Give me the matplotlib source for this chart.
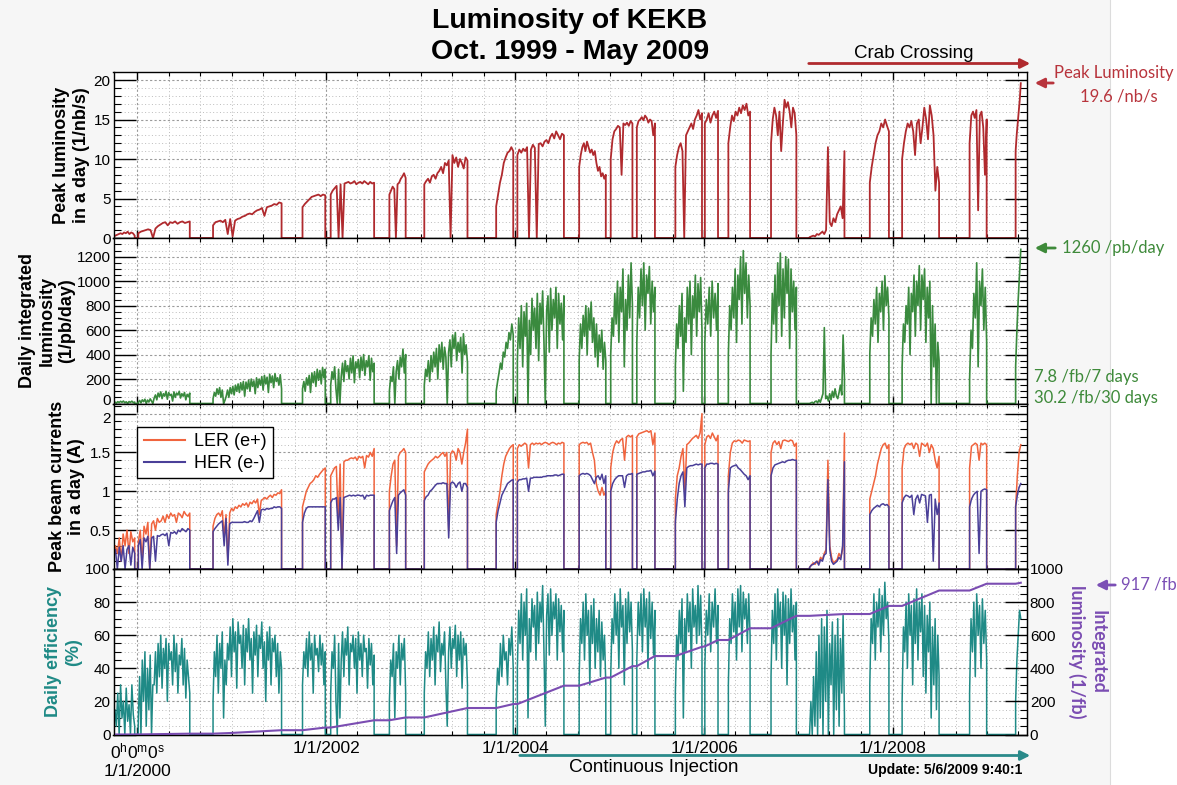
import matplotlib.pyplot as plt
import matplotlib.dates as mdates
import matplotlib.transforms as mtransforms
from matplotlib.patches import Rectangle, FancyArrowPatch
from matplotlib.lines import Line2D
from matplotlib.ticker import MultipleLocator
import numpy as np
import pandas as pd

plt.rcParams['font.family'] = ['Liberation Sans', 'DejaVu Sans']
plt.rcParams['mathtext.default'] = 'regular'

# operation periods (start / end of each run)
run_start = ["1999-10-01", "2000-01-05", "2000-10-20", "2001-10-01", "2002-01-18", "2002-09-02",
             "2003-01-15", "2003-10-20", "2004-01-10", "2004-09-05", "2005-01-05", "2005-04-16",
             "2005-09-12", "2006-01-04", "2006-04-05", "2006-09-17", "2007-02-13", "2007-10-04",
             "2008-02-06", "2008-10-24", "2009-04-20"]
run_end = ["1999-12-22", "2000-07-22", "2001-07-12", "2001-12-28", "2002-07-05", "2002-11-04",
           "2003-07-01", "2003-12-25", "2004-07-08", "2004-12-17", "2005-03-30", "2005-06-25",
           "2005-12-24", "2006-02-24", "2006-06-28", "2006-12-24", "2007-06-28", "2007-12-17",
           "2008-06-28", "2008-12-29", "2009-05-10"]

# peak luminosity in a day (1/nb/s), values spread over each run
peak_lumi = [
    [0.1, 0.3, 0.4, 0.5, 0.6, 0.5, 0.7, 0.6, 0.8, 0.5, 0.7, 0.6, 0.3],
    [0.6, 0.8, 0.9, 1.0, 1.1, 1.0, 0.0, 1.2, 1.5, 1.7, 1.9, 2.0, 1.6, 2.0, 1.9, 2.1, 1.8, 2.0, 2.1, 1.9, 2.0, 2.1],
    [1.6, 2.0, 2.1, 2.2, 2.0, 2.3, 0.5, 2.4, 0.2, 2.2, 2.4, 2.5, 2.7, 2.8, 3.0, 3.1, 3.0, 3.3, 3.5, 3.6, 3.8, 2.8,
     3.9, 4.0, 4.1, 4.3, 4.2, 4.5, 4.4],
    [3.9, 4.3, 4.6, 4.9, 5.2, 5.3, 5.4, 5.5, 5.3, 5.5, 5.4],
    [5.5, 6.0, 6.3, 6.6, 0.0, 6.8, 0.0, 6.9, 7.0, 7.1, 6.9, 7.0, 7.2, 6.8, 7.0, 7.1, 6.9, 7.2, 7.0, 6.8, 7.1, 6.9, 7.0],
    [5.5, 6.0, 6.5, 6.2, 0.0, 6.8, 7.0, 7.5, 7.8, 8.2, 7.6],
    [6.8, 7.2, 7.5, 7.0, 7.8, 8.0, 7.5, 8.2, 8.5, 9.0, 8.2, 9.5, 9.2, 9.8, 0.0, 10.5, 9.5, 10.2, 9.0, 10.0, 9.5,
     8.8, 10.2, 9.8],
    [4.0, 5.5, 7.0, 8.0, 9.5, 10.2, 10.8, 11.0, 11.5, 11.0],
    [10.5, 11.2, 10.8, 11.3, 11.0, 11.5, 0.0, 11.2, 11.8, 11.4, 0.0, 11.9, 12.0, 11.6, 12.2, 12.4, 12.0, 12.8, 13.2,
     12.6, 13.5, 13.0, 12.5, 13.2, 13.0],
    [9.0, 10.5, 11.5, 12.0, 11.0, 12.2, 11.5, 10.8, 11.2, 10.5, 11.0, 9.5, 8.5, 9.0, 7.8, 8.2, 7.5, 8.0],
    [10.0, 12.5, 13.5, 13.8, 14.2, 14.0, 8.0, 14.5, 14.3, 14.6, 14.2, 14.8, 14.5],
    [14.0, 14.8, 15.0, 15.3, 14.9, 15.5, 15.2, 14.6, 15.0, 14.8, 13.0, 14.5],
    [9.0, 10.5, 11.5, 12.0, 11.0, 0.0, 13.0, 13.5, 14.0, 14.5, 13.8, 15.0, 15.5, 16.2, 15.0, 15.8],
    [14.5, 15.0, 15.8, 14.6, 15.5, 16.0, 15.2, 16.1],
    [12.0, 14.0, 15.5, 14.8, 16.0, 15.5, 16.5, 15.8, 16.8, 16.2, 17.0, 15.5, 16.0],
    [12.0, 15.0, 16.5, 15.5, 13.0, 16.0, 11.0, 14.5, 17.5, 16.5, 17.2, 16.0, 14.0, 16.5, 15.8, 13.0],
    [0.1, 0.2, 0.3, 0.2, 0.5, 0.4, 0.6, 0.8, 0.5, 1.0, 11.5, 2.0, 1.5, 2.5, 2.0, 3.0, 3.5, 4.0, 2.5, 11.0],
    [7.0, 9.0, 10.5, 12.0, 13.0, 13.5, 14.5, 14.0, 15.0, 14.2, 13.5],
    [10.0, 12.0, 13.5, 14.5, 14.0, 14.8, 13.5, 10.5, 14.5, 15.0, 12.0, 14.0, 16.5, 15.0, 12.5, 16.8, 15.5, 13.0,
     6.0, 9.0, 7.0],
    [12.0, 15.5, 16.0, 15.2, 16.2, 3.5, 15.5, 16.0, 14.0, 8.0, 15.0],
    [11.0, 13.0, 14.5, 16.0, 17.5, 19.6],
]

# daily integrated luminosity (1/pb/day)
daily_lumi = [
    [5, 12, 3, 15, 8, 18, 10, 20, 6, 14, 0, 16, 9, 19, 7, 12],
    [10, 25, 5, 30, 15, 35, 0, 28, 12, 38, 20, 0, 45, 70, 30, 85, 55, 95, 40, 80, 60, 100, 35, 90, 65, 75, 20, 95,
     50, 85, 70, 100, 45, 80, 60, 90, 30, 75, 55, 85],
    [40, 90, 60, 120, 75, 130, 50, 110, 0, 25, 60, 110, 50, 130, 80, 140, 70, 150, 100, 160, 90, 170, 110, 180, 60,
     175, 120, 190, 100, 200, 140, 185, 80, 210, 130, 200, 150, 220, 110, 230, 160, 215, 90, 240, 170, 225, 130,
     245, 180, 210, 150, 235, 120],
    [120, 180, 100, 210, 150, 230, 90, 250, 170, 260, 140, 280, 190, 270, 160, 295, 210, 280],
    [150, 260, 200, 300, 120, 0, 280, 0, 220, 330, 180, 350, 260, 310, 200, 370, 250, 390, 170, 340, 290, 360, 210,
     380, 270, 400, 230, 350, 300, 390, 190, 370, 260, 330],
    [100, 220, 180, 300, 0, 260, 350, 200, 380, 300, 445, 250, 400],
    [150, 280, 220, 350, 180, 390, 260, 420, 300, 450, 200, 480, 340, 500, 280, 460, 380, 0, 420, 520, 300, 560,
     450, 580, 350, 500, 420, 540, 250, 570, 400, 480, 330],
    [100, 180, 250, 330, 280, 420, 380, 500, 450, 580, 520, 650, 560],
    [350, 700, 450, 800, 300, 750, 550, 820, 0, 680, 400, 860, 600, 780, 450, 900, 350, 820, 650, 920, 500, 0, 760,
     880, 420, 940, 600, 850, 700, 950, 450, 900, 650, 820, 520, 880],
    [350, 650, 450, 720, 550, 800, 400, 780, 600, 830, 500, 700, 380, 650, 300, 560, 420, 600, 280, 500, 350],
    [400, 700, 550, 900, 650, 1000, 500, 950, 750, 1100, 300, 850, 600, 1050, 700, 1150, 800],
    [500, 950, 700, 1100, 800, 1150, 600, 1050, 900, 1120, 650, 1000, 750, 950],
    [300, 650, 450, 800, 550, 900, 100, 700, 500, 950, 650, 1000, 400, 880, 700, 1050, 550, 980, 750, 1030, 600],
    [500, 850, 650, 950, 550, 1000, 700, 900, 600, 980],
    [400, 800, 600, 950, 700, 1100, 500, 1050, 850, 1200, 650, 1250, 900, 1150, 700, 1050, 800],
    [400, 900, 650, 1050, 500, 1150, 800, 1230, 550, 1100, 700, 1200, 900, 1180, 450, 1100, 750, 1000, 600, 950],
    [0, 5, 10, 0, 15, 20, 5, 30, 10, 45, 80, 620, 40, 60, 20, 80, 30, 100, 50, 120, 60, 40, 90, 150, 70, 560, 200],
    [400, 700, 550, 850, 650, 950, 500, 900, 750, 1000, 600, 1045, 800, 950, 700],
    [300, 650, 500, 800, 650, 950, 400, 900, 750, 1050, 550, 1000, 800, 1127, 600, 1050, 850, 1100, 500, 950, 700,
     1000, 0, 800, 300, 650, 0, 500, 350],
    [200, 600, 450, 900, 700, 1150, 300, 1000, 800, 1100, 600, 950, 500],
    [300, 600, 850, 1050, 1260],
]

# peak beam currents in a day (A)
ler = [
    [0.15, 0.3, 0.2, 0.4, 0.1, 0.45, 0.3, 0.5, 0.2, 0.48, 0.35, 0.4],
    [0.35, 0.5, 0.1, 0.55, 0.45, 0.6, 0.0, 0.58, 0.62, 0.5, 0.65, 0.6, 0.62, 0.68, 0.6, 0.7, 0.65, 0.72, 0.68, 0.7,
     0.6, 0.72, 0.7, 0.66, 0.74, 0.7, 0.68, 0.72],
    [0.55, 0.65, 0.7, 0.72, 0.68, 0.75, 0.4, 0.7, 0.1, 0.72, 0.78, 0.75, 0.8, 0.78, 0.82, 0.8, 0.84, 0.82, 0.85, 0.8,
     0.86, 0.84, 0.88, 0.85, 0.9, 0.7, 0.88, 0.9, 0.92, 0.9, 0.93, 0.95, 0.92, 0.96, 0.95, 0.98, 0.97, 1.02],
    [0.8, 0.9, 1.0, 1.05, 1.1, 1.12, 1.15, 1.2, 1.18, 1.22, 1.25, 1.28, 1.3],
    [1.2, 1.25, 1.3, 1.32, 0.6, 1.35, 0.0, 1.38, 1.4, 1.4, 1.42, 1.43, 1.42, 1.44, 1.4, 1.45, 1.43, 1.45, 1.3, 1.46,
     1.44, 1.5, 1.45, 1.55],
    [1.0, 1.2, 1.35, 1.4, 0.3, 1.45, 1.5, 1.52, 1.55, 1.5],
    [1.25, 1.3, 1.35, 1.38, 1.4, 1.42, 1.45, 1.43, 1.45, 1.48, 1.5, 1.45, 1.5, 0.5, 1.48, 1.52, 1.5, 1.4, 1.55, 1.5,
     1.35, 1.5, 1.62, 1.8],
    [0.7, 0.85, 1.0, 1.2, 1.35, 1.45, 1.5, 1.55, 1.58, 1.6],
    [1.55, 1.6, 1.58, 1.6, 1.62, 1.6, 1.3, 1.6, 1.62, 1.6, 1.62, 1.61, 1.62, 1.6, 1.62, 1.63, 1.62, 1.6, 1.62, 1.63,
     1.62, 1.6, 1.62, 1.61, 1.63, 1.62],
    [1.6, 1.62, 1.63, 1.62, 1.63, 1.6, 1.62, 1.5, 1.4, 1.1, 1.0, 0.95, 1.05, 0.95, 1.0],
    [1.3, 1.5, 1.6, 1.65, 1.62, 1.66, 1.68, 1.4, 1.7, 1.72, 1.7, 1.72],
    [1.7, 1.74, 1.75, 1.76, 1.77, 1.78, 1.76, 1.78, 1.6, 1.75],
    [0.9, 1.2, 1.3, 1.45, 1.55, 1.0, 1.6, 1.62, 1.65, 1.68, 1.7, 1.72, 1.68, 1.75, 2.0],
    [1.6, 1.7, 1.72, 1.68, 1.75, 1.7, 1.65, 1.72],
    [1.2, 1.5, 1.62, 1.65, 1.64, 1.66, 1.65, 1.62, 1.66, 1.65, 1.64, 1.65],
    [1.5, 1.62, 1.65, 1.6, 1.64, 1.55, 1.65, 1.66, 1.65, 1.64, 1.66, 1.65, 1.58, 1.62],
    [0.02, 0.05, 0.08, 0.06, 0.1, 0.08, 0.15, 0.12, 0.2, 0.25, 1.4, 0.3, 0.15, 0.08, 0.1, 0.12, 0.2, 0.15, 0.25, 1.75],
    [0.9, 1.0, 1.1, 1.2, 1.35, 1.45, 1.55, 1.6, 1.62, 1.55, 1.6],
    [1.3, 1.55, 1.6, 1.62, 1.6, 1.62, 1.55, 1.62, 1.6, 1.45, 1.62, 1.6, 1.58, 1.62, 1.5, 1.6, 1.55, 1.4, 1.3, 1.45],
    [1.3, 1.58, 1.6, 1.62, 1.6, 1.4, 1.62, 1.6, 1.62, 1.6],
    [0.8, 1.2, 1.5, 1.6],
]
her = [
    [0.2, 0.25, 0.0, 0.28, 0.1, 0.3, 0.0, 0.25, 0.3, 0.05, 0.28, 0.2],
    [0.3, 0.38, 0.0, 0.4, 0.35, 0.42, 0.0, 0.4, 0.42, 0.1, 0.43, 0.42, 0.44, 0.45, 0.43, 0.46, 0.3, 0.47, 0.46, 0.48,
     0.45, 0.5, 0.48, 0.52, 0.5, 0.48, 0.52, 0.5],
    [0.48, 0.52, 0.55, 0.58, 0.6, 0.62, 0.3, 0.65, 0.05, 0.58, 0.6, 0.6, 0.6, 0.6, 0.6, 0.6, 0.6, 0.61, 0.6, 0.6,
     0.62, 0.61, 0.65, 0.7, 0.75, 0.6, 0.76, 0.77, 0.76, 0.78, 0.77, 0.78, 0.78, 0.8, 0.79, 0.8, 0.8, 0.78],
    [0.6, 0.72, 0.78, 0.8, 0.8, 0.8, 0.8, 0.8, 0.8, 0.8, 0.8, 0.8, 0.8],
    [0.85, 0.9, 0.9, 0.92, 0.5, 0.92, 0.0, 0.92, 0.93, 0.94, 0.95, 0.94, 0.95, 0.94, 0.95, 0.95, 0.94, 0.95, 0.9,
     0.95, 0.94, 0.95, 0.95, 0.95],
    [0.75, 0.82, 0.88, 0.92, 0.2, 0.95, 0.98, 1.0, 1.02, 0.95],
    [0.88, 0.93, 0.95, 1.0, 1.02, 1.05, 1.08, 1.1, 1.1, 1.1, 1.11, 1.1, 1.1, 0.4, 1.1, 1.12, 1.1, 1.05, 1.1, 1.12,
     1.0, 1.1, 1.1, 1.05],
    [0.6, 0.75, 0.85, 0.95, 1.0, 1.05, 1.1, 1.12, 1.14, 1.15],
    [1.12, 1.15, 1.15, 1.16, 1.16, 1.17, 1.0, 1.17, 1.17, 1.18, 1.18, 1.18, 1.18, 1.18, 1.19, 1.19, 1.2, 1.2, 1.2,
     1.2, 1.21, 1.21, 1.2, 1.21, 1.22, 1.22],
    [1.2, 1.22, 1.23, 1.22, 1.23, 1.22, 1.2, 1.15, 1.1, 1.18, 1.2, 1.15, 1.22, 1.1, 1.2],
    [1.0, 1.1, 1.15, 1.18, 1.2, 1.2, 1.2, 1.05, 1.2, 1.22, 1.22, 1.23],
    [1.22, 1.23, 1.24, 1.25, 1.25, 1.26, 1.26, 1.27, 1.2, 1.26],
    [0.6, 0.9, 1.1, 1.2, 1.25, 0.8, 1.3, 1.32, 1.33, 1.33, 1.34, 1.35, 1.34, 1.35, 1.35],
    [1.3, 1.35, 1.35, 1.36, 1.36, 1.35, 1.36, 1.35],
    [1.0, 1.3, 1.32, 1.33, 1.34, 1.3, 1.28, 1.25, 1.22, 1.2, 1.15, 1.2],
    [1.2, 1.3, 1.34, 1.35, 1.36, 1.37, 1.38, 1.37, 1.39, 1.4, 1.4, 1.41, 1.4, 1.4],
    [0.02, 0.05, 0.06, 0.08, 0.1, 0.05, 0.12, 0.1, 0.18, 0.2, 1.15, 0.25, 0.1, 0.06, 0.08, 0.1, 0.15, 0.12, 0.3, 1.38],
    [0.7, 0.75, 0.78, 0.8, 0.82, 0.8, 0.83, 0.84, 0.82, 0.83, 0.8],
    [0.85, 0.92, 0.95, 0.94, 0.92, 0.95, 0.7, 0.9, 0.95, 0.85, 0.96, 0.95, 0.94, 0.6, 0.95, 0.96, 0.1, 0.9, 0.7, 0.85],
    [0.8, 0.9, 0.95, 0.98, 1.0, 0.2, 1.0, 1.02, 1.03, 1.02],
    [0.8, 0.95, 1.05, 1.1],
]

# daily efficiency (%)
efficiency = [
    [0, 15, 5, 25, 0, 30, 10, 20, 0, 28, 8, 18, 0, 30, 12, 5],
    [10, 35, 0, 45, 20, 50, 5, 40, 15, 48, 0, 30, 30, 50, 25, 55, 35, 60, 28, 52, 40, 58, 20, 55, 45, 50, 30, 60,
     38, 55, 25, 48, 42, 58, 30, 52, 22, 45, 35, 25],
    [20, 50, 35, 60, 25, 55, 40, 62, 10, 45, 30, 55, 45, 65, 35, 70, 50, 62, 28, 68, 55, 60, 40, 66, 30, 64, 50, 70,
     45, 58, 25, 62, 48, 66, 35, 60, 52, 68, 40, 56, 20, 62, 45, 65, 30, 58, 50, 60, 35, 55, 25, 50, 40],
    [30, 50, 40, 58, 35, 62, 45, 55, 25, 60, 48, 52, 38, 60, 42, 55, 30, 50],
    [25, 50, 40, 60, 20, 0, 55, 10, 45, 62, 35, 58, 48, 65, 30, 55, 50, 60, 40, 58, 25, 62, 45, 55, 35, 60, 50, 52,
     28, 58, 42, 55, 30, 48],
    [20, 45, 35, 55, 10, 50, 40, 60, 30, 55, 45, 58, 25],
    [25, 50, 40, 62, 35, 58, 45, 65, 30, 60, 50, 68, 38, 55, 48, 62, 30, 5, 50, 65, 40, 58, 52, 66, 35, 60, 45, 62,
     28, 58, 48, 55, 30],
    [20, 40, 30, 55, 35, 60, 45, 50, 30, 58, 48, 65, 40],
    [40, 75, 55, 85, 45, 80, 60, 88, 10, 70, 50, 82, 65, 78, 45, 86, 55, 80, 68, 90, 50, 5, 72, 85, 48, 88, 60, 80,
     70, 85, 45, 82, 62, 78, 50, 75],
    [35, 70, 55, 80, 45, 85, 60, 75, 30, 78, 55, 82, 40, 70, 50, 75, 35, 68, 45, 60, 30],
    [35, 70, 55, 85, 60, 80, 40, 88, 65, 78, 30, 82, 55, 86, 62, 80, 50],
    [45, 80, 60, 85, 50, 88, 65, 82, 40, 86, 58, 80, 48, 75],
    [25, 60, 45, 75, 55, 82, 10, 70, 50, 85, 62, 80, 40, 88, 65, 78, 55, 90, 60, 84, 50],
    [40, 75, 60, 85, 50, 80, 65, 88, 55, 78],
    [30, 70, 55, 85, 62, 80, 45, 88, 65, 90, 50, 86, 70, 82, 55, 85, 60],
    [35, 75, 55, 85, 45, 88, 65, 80, 40, 86, 60, 84, 30, 82, 55, 88, 62, 78, 45, 80],
    [0, 20, 0, 35, 5, 50, 0, 60, 10, 70, 0, 65, 20, 75, 0, 55, 30, 68, 0, 60, 15, 70, 5, 58, 25, 72, 10],
    [30, 70, 55, 85, 45, 80, 65, 88, 50, 84, 60, 92, 70, 80, 55],
    [20, 65, 50, 80, 40, 85, 60, 78, 30, 82, 55, 88, 45, 80, 62, 85, 35, 78, 25, 72, 50, 80, 10, 65, 30, 70, 15, 60, 35],
    [25, 70, 50, 80, 35, 85, 60, 78, 40, 82, 55, 75, 45],
    [20, 45, 60, 75, 70],
]

# integrated luminosity (1/fb)
int_dates = ["1999-10-01", "2000-01-05", "2000-07-22", "2000-10-20", "2000-12-25", "2001-07-12", "2001-10-01",
             "2001-12-28", "2002-01-18", "2002-07-05", "2002-09-02", "2002-11-04", "2003-01-15", "2003-07-01",
             "2003-10-20", "2003-12-25", "2004-01-10", "2004-07-08", "2004-09-05", "2004-12-17", "2005-01-05",
             "2005-03-30", "2005-04-16", "2005-06-25", "2005-09-12", "2005-12-24", "2006-01-04", "2006-02-24",
             "2006-04-05", "2006-06-28", "2006-09-17", "2006-12-24", "2007-02-13", "2007-06-28", "2007-10-04",
             "2007-12-17", "2008-02-06", "2008-06-28", "2008-10-24", "2008-12-29", "2009-04-20", "2009-05-10"]
int_lumi = [0, 0.5, 5, 5, 9, 26, 26, 42, 42, 86, 86, 103, 103, 160, 160, 184, 184, 295, 295, 344, 344, 413, 413,
            474, 474, 530, 532, 571, 571, 642, 642, 717, 717, 728, 728, 777, 777, 870, 870, 911, 911, 917]

xtick_dates = ["2000-01-01", "2002-01-01", "2004-01-01", "2006-01-01", "2008-01-01"]
xtick_labels = ["0$^h$0$^m$0$^s$\n1/1/2000", "1/1/2002", "1/1/2004", "1/1/2006", "1/1/2008"]

c_peak = '#b02a2e'
c_daily = '#3a8a3e'
c_ler = '#f0643e'
c_her = '#4a3f98'
c_eff = '#1f8a86'
c_int = '#7b4db2'

W, H = 1177, 785
fig = plt.figure(figsize=(W / 100, H / 100), dpi=100)
fig.patch.set_facecolor('white')
fig.add_artist(Rectangle((0, 0), 1110 / W, 1, transform=fig.transFigure,
                         facecolor='#f6f6f6', edgecolor='none', zorder=-10))
fig.add_artist(Line2D([1110 / W] * 2, [0, 1], transform=fig.transFigure, color='#dcdcdc', lw=0.8, zorder=-9))

starts = mdates.date2num(pd.to_datetime(run_start))
ends = mdates.date2num(pd.to_datetime(run_end))
xmin = mdates.date2num(pd.Timestamp("1999-10-01"))
xmax = mdates.date2num(pd.Timestamp("2009-06-03"))


def trace(runs_vals):
    xs, ys = [], []
    for k, vals in enumerate(runs_vals):
        t = np.linspace(starts[k], ends[k], len(vals))
        xs += [starts[k]] + list(t)
        ys += [0] + list(vals)
        if k < len(runs_vals) - 1:
            xs.append(ends[k])
            ys.append(0)
    return np.array(xs), np.array(ys)


left = 113.5 / W
width = (1027 - 113.5) / W
edges = [72.5, 238, 403.5, 569, 734.5]
axes = []
for i in range(4):
    axes.append(fig.add_axes([left, 1 - edges[i + 1] / H, width, (edges[i + 1] - edges[i]) / H]))
ax1, ax2, ax3, ax4 = axes


def style(ax, ymax, major, minor):
    ax.set_xlim(xmin, xmax)
    ax.set_ylim(0, ymax)
    ax.xaxis.set_major_locator(mdates.YearLocator(2))
    ax.xaxis.set_minor_locator(mdates.MonthLocator(bymonth=[1, 5, 9]))
    ax.yaxis.set_major_locator(MultipleLocator(major))
    ax.yaxis.set_minor_locator(MultipleLocator(minor))
    ax.grid(which='major', ls=(0, (2, 2)), color='#9a9a9a', lw=0.8)
    ax.grid(which='minor', ls=(0, (1, 2.5)), color='#bcbcbc', lw=0.7)
    ax.set_axisbelow(True)
    ax.tick_params(axis='both', which='both', direction='in', top=True, right=True,
                   labelsize=11, pad=2, labelbottom=False)
    ax.tick_params(axis='y', which='major', length=16, width=1)
    ax.tick_params(axis='y', which='minor', length=5, width=0.8)
    ax.tick_params(axis='x', which='major', length=6, width=1)
    ax.tick_params(axis='x', which='minor', length=3, width=0.8)
    for s in ax.spines.values():
        s.set_linewidth(1)


# panel 1: peak luminosity
x, y = trace(peak_lumi)
ax1.plot(x, y, color=c_peak, lw=1.3)
style(ax1, 20.95, 5, 1)
ax1.set_ylabel("Peak luminosity\nin a day (1/nb/s)", fontsize=13, fontweight='bold')
ax1.yaxis.set_label_coords(-0.026, 0.5)

# panel 2: daily integrated luminosity
x, y = trace(daily_lumi)
ax2.plot(x, y, color=c_daily, lw=1.2)
style(ax2, 1353, 200, 50)
ax2.set_ylabel("Daily integrated\nluminosity\n(1/pb/day)", fontsize=13, fontweight='bold')
ax2.yaxis.set_label_coords(-0.042, 0.5)

# panel 3: beam currents
x, y = trace(ler)
ax3.plot(x, y, color=c_ler, lw=1.1)
x, y = trace(her)
ax3.plot(x, y, color=c_her, lw=1.1)
style(ax3, 2.13, 0.5, 0.1)
ax3.set_yticks([0, 0.5, 1, 1.5, 2])
ax3.set_yticklabels(['', '0.5', '1', '1.5', '2'])
ax3.set_ylabel("Peak beam currents\nin a day (A)", fontsize=13, fontweight='bold')
ax3.yaxis.set_label_coords(-0.031, 0.5)
hl = [Line2D([], [], color=c_ler, lw=1.5), Line2D([], [], color=c_her, lw=1.5)]
leg = ax3.legend(hl, ['LER (e+)', 'HER (e-)'], loc='upper left', bbox_to_anchor=(0.026, 0.857),
                 borderaxespad=0, fontsize=13, frameon=True, fancybox=False, edgecolor='black',
                 framealpha=1, handlelength=2.3, handletextpad=0.5, borderpad=0.35, labelspacing=0.25)
leg.get_frame().set_linewidth(1.0)

# the "0" of panel 2 and the "2" of panel 3 sit at the shared edge: nudge them apart a little
fig.canvas.draw()
for lab in ax2.get_yticklabels():
    if lab.get_text() == '0':
        lab.set_transform(lab.get_transform() + mtransforms.ScaledTranslation(0, 3 / 72, fig.dpi_scale_trans))
for lab in ax3.get_yticklabels():
    if lab.get_text() == '2':
        lab.set_transform(lab.get_transform() + mtransforms.ScaledTranslation(0, -3 / 72, fig.dpi_scale_trans))

# panel 4: efficiency + integrated luminosity
x, y = trace(efficiency)
ax4.plot(x, y, color=c_eff, lw=1.1)
style(ax4, 100, 20, 5)
ax4.tick_params(axis='y', which='both', right=False)
ax4.tick_params(axis='x', which='major', labelbottom=True, labelsize=12.5, pad=5)
ax4.set_xticks(mdates.date2num(pd.to_datetime(xtick_dates)))
ax4.set_xticklabels(xtick_labels)
ax4.set_ylabel("Daily efficiency\n(%)", fontsize=13, fontweight='bold', color=c_eff)
ax4.yaxis.set_label_coords(-0.0345, 0.5)

ax4r = ax4.twinx()
ax4r.plot(mdates.date2num(pd.to_datetime(int_dates)), int_lumi, color=c_int, lw=1.5)
ax4r.set_xlim(xmin, xmax)
ax4r.set_ylim(0, 1000)
ax4r.yaxis.set_major_locator(MultipleLocator(200))
ax4r.yaxis.set_minor_locator(MultipleLocator(50))
ax4r.tick_params(axis='y', which='both', direction='in', labelsize=11, pad=2)
ax4r.tick_params(axis='y', which='major', length=16, width=1)
ax4r.tick_params(axis='y', which='minor', length=5, width=0.8)
ax4.text(1.066, 0.5, "Integrated\nluminosity (1/fb)", transform=ax4.transAxes, rotation=-90,
         ha='center', va='center', fontsize=13, fontweight='bold', color=c_int,
         family=['Lato', 'DejaVu Sans'])


def F(px, py):
    return (px / W, 1 - py / H)


def arrow(tail, tip, color):
    fig.add_artist(FancyArrowPatch(F(*tail), F(*tip), transform=fig.transFigure, arrowstyle='-|>',
                                   mutation_scale=14, color=color, lw=2))


# titles and annotations
fig.text(*F(570, 21), "Luminosity of KEKB", ha='center', va='center', fontsize=20.5, fontweight='bold')
fig.text(*F(570, 52), "Oct. 1999 - May 2009", ha='center', va='center', fontsize=20.5, fontweight='bold')

red_t, green_t, purple_t, teal_t = '#b8343c', '#3e8a3a', '#7b4fb5', '#2a8a8a'
ann = dict(family=['Lato', 'DejaVu Sans'], fontsize=12, va='center')
arrow((806, 63.5), (1033, 63.5), c_peak)
fig.text(*F(914, 54), "Crab Crossing", ha='center', va='center', fontsize=13.5)
arrow((1056, 83), (1032, 83), red_t)
fig.text(*F(1114, 73), "Peak Luminosity", ha='center', color=red_t, **ann)
fig.text(*F(1119, 97), "19.6 /nb/s", ha='center', color=red_t, **ann)
arrow((1058, 248), (1032, 248), green_t)
fig.text(*F(1062, 248), "1260 /pb/day", ha='left', color=green_t, **ann)
fig.text(*F(1034, 377), "7.8 /fb/7 days", ha='left', color=green_t, **ann)
fig.text(*F(1034, 398), "30.2 /fb/30 days", ha='left', color=green_t, **ann)
arrow((1118, 585), (1093, 585), purple_t)
fig.text(*F(1121, 585), "917 /fb", ha='left', color=purple_t, **ann)
arrow((517, 755.5), (1033, 755.5), teal_t)
fig.text(*F(654, 768), "Continuous Injection", ha='center', va='center', fontsize=13.5)
fig.text(*F(945, 770), "Update: 5/6/2009 9:40:1", ha='center', va='center', fontsize=10, fontweight='bold')

fig.savefig("out.png", dpi=100)
